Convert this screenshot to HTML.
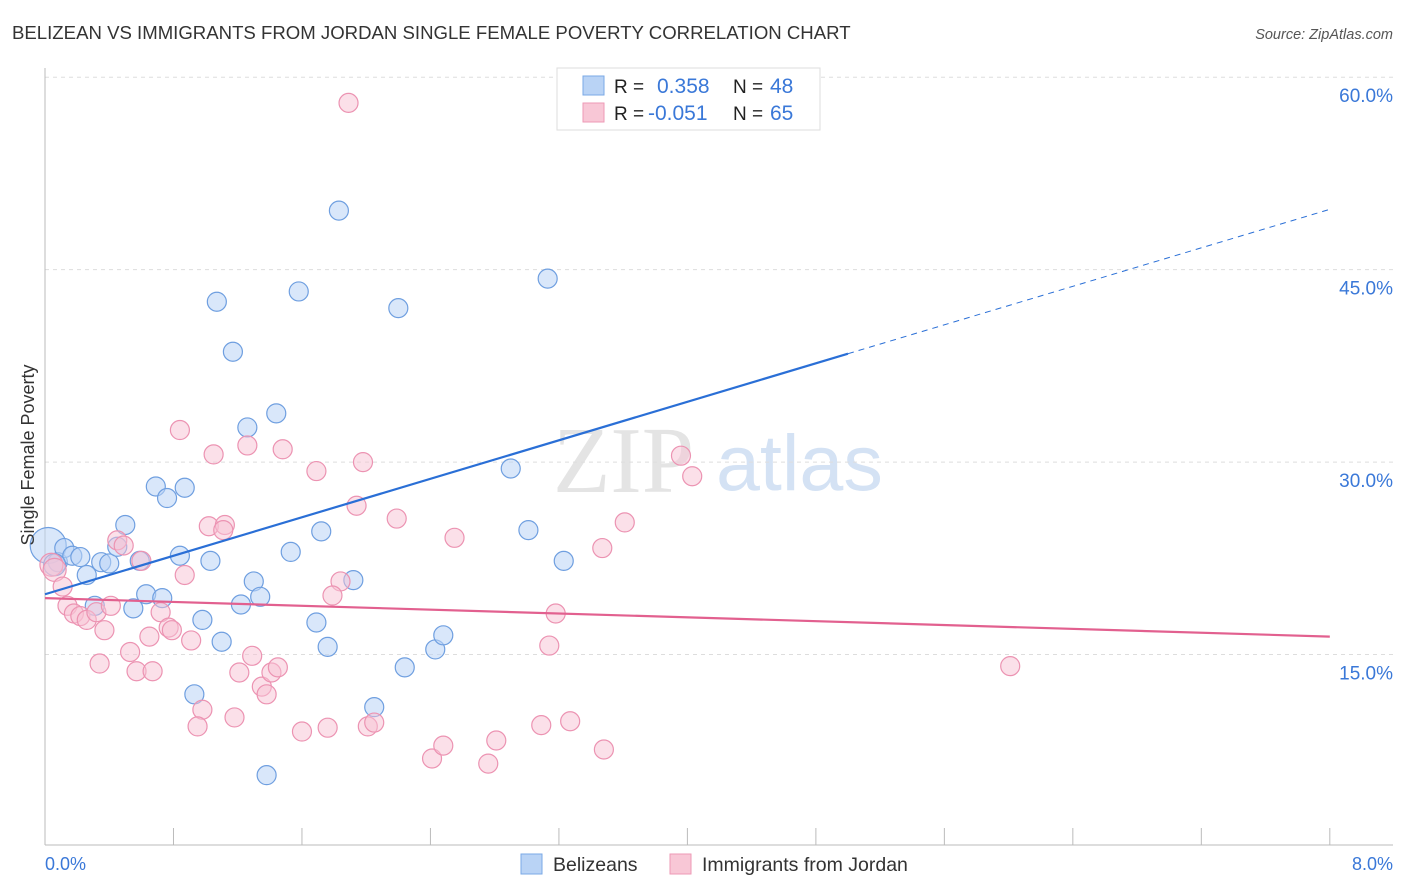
<!DOCTYPE html>
<html><head><meta charset="utf-8"><style>
body{margin:0;background:#fff;font-family:"Liberation Sans",sans-serif;}
svg{display:block}
</style></head><body>
<svg id="c" width="1406" height="892">
<text x="12" y="39" font-size="18.6" fill="#333">BELIZEAN VS IMMIGRANTS FROM JORDAN SINGLE FEMALE POVERTY CORRELATION CHART</text>
<text x="1393" y="39" font-size="14.5" fill="#555" font-style="italic" text-anchor="end">Source: ZipAtlas.com</text>
<g>
<text x="553" y="492" font-size="94" font-family="Liberation Serif,serif" fill="#e4e4e4">ZIP</text>
<text x="716" y="490" font-size="79" fill="#d4e2f4">atlas</text>
</g>
<g id="grid"></g>
<g id="axes"></g>
<g id="pts"></g>
<g id="trend"></g>
<text x="34" y="455" font-size="18" fill="#333" text-anchor="middle" transform="rotate(-90 34 455)">Single Female Poverty</text>
<text x="45" y="870" font-size="18" fill="#3a78d8">0.0%</text>
<text x="1393" y="870" font-size="18" fill="#3a78d8" text-anchor="end">8.0%</text>
<g>
<rect x="557" y="68" width="263" height="62" fill="#fff" stroke="#ddd"/>
<rect x="583" y="76" width="21" height="19" fill="#b9d3f5" stroke="#7aa8e6"/>
<rect x="583" y="103" width="21" height="19" fill="#f8c7d6" stroke="#ee9ab6"/>
<text x="614" y="93" font-size="19" fill="#222">R =</text><text x="657" y="93" font-size="21" fill="#3a78d8">0.358</text>
<text x="733" y="93" font-size="19" fill="#222">N =</text><text x="770" y="93" font-size="21" fill="#3a78d8">48</text>
<text x="614" y="120" font-size="19" fill="#222">R =</text><text x="648" y="120" font-size="21" fill="#3a78d8">-0.051</text>
<text x="733" y="120" font-size="19" fill="#222">N =</text><text x="770" y="120" font-size="21" fill="#3a78d8">65</text>
</g>
<g>
<rect x="521" y="854" width="21" height="20" fill="#b9d3f5" stroke="#7aa8e6"/>
<text x="553" y="871" font-size="19.5" fill="#333">Belizeans</text>
<rect x="670" y="854" width="21" height="20" fill="#f8c7d6" stroke="#ee9ab6"/>
<text x="702" y="871" font-size="19.5" fill="#333">Immigrants from Jordan</text>
</g>
</svg>
<script>
const blueX=[0.02,0.08,0.12,0.17,0.22,0.26,0.31,0.35,0.40,0.45,0.50,0.55,0.59,0.63,0.69,0.73,0.76,0.84,0.87,0.93,0.98,1.03,1.07,1.10,1.17,1.22,1.26,1.30,1.34,1.38,1.44,1.53,1.58,1.69,1.72,1.76,1.83,1.92,2.05,2.20,2.24,2.43,2.48,2.90,3.01,3.13,3.23,0.06];
const blueY=[23.5,22.2,23.3,22.7,22.6,21.2,18.8,22.2,22.1,23.4,25.1,18.6,22.3,19.7,28.1,19.4,27.2,22.7,28.0,11.9,17.7,22.3,42.5,16.0,38.6,18.9,32.7,20.7,19.5,5.6,33.8,23.0,43.3,17.5,24.6,15.6,49.6,20.8,10.9,42.0,14.0,15.4,16.5,29.5,24.7,44.3,22.3,22.0];
const pinkX=[1.89,0.84,1.05,1.26,1.48,1.69,1.98,1.94,2.19,2.55,3.96,4.03,3.61,3.47,1.02,1.12,1.11,0.45,0.49,0.60,0.87,1.84,1.79,3.18,3.14,6.01,0.04,0.06,0.11,0.14,0.18,0.22,0.26,0.32,0.37,0.41,0.34,0.53,0.57,0.67,0.65,0.72,0.77,0.79,0.91,0.98,0.95,1.18,1.21,1.29,1.35,1.38,1.41,1.45,1.60,1.76,2.01,2.05,2.41,2.48,2.76,2.81,3.09,3.27,3.48];
const pinkY=[58.0,32.5,30.6,31.3,31.0,29.3,30.0,26.6,25.6,24.1,30.5,28.9,25.3,23.3,25.0,25.1,24.7,23.9,23.5,22.3,21.2,20.7,19.6,18.2,15.7,14.1,22.0,21.6,20.3,18.8,18.2,18.0,17.7,18.3,16.9,18.8,14.3,15.2,13.7,13.7,16.4,18.3,17.1,16.9,16.1,10.7,9.4,10.1,13.6,14.9,12.5,11.9,13.6,14.0,9.0,9.3,9.4,9.7,6.9,7.9,6.5,8.3,9.5,9.8,7.6];
const yTicks=[15,30,45,60];
const yTickLabels=["15.0%","30.0%","45.0%","60.0%"];
const xTicks=[0,0.8,1.6,2.4,3.2,4,4.8,5.6,6.4,7.2,8];
const blueTrend=[19.7,49.7]; const blueSolidEnd=5.0;
const pinkTrend=[19.4,16.4];
const NS='http://www.w3.org/2000/svg';
const X=v=>45+v*160.6, Y=v=>847-v*12.83;
function mk(t,a,p){const e=document.createElementNS(NS,t);for(const k in a)e.setAttribute(k,a[k]);document.getElementById(p).appendChild(e);return e;}
yTicks.forEach((t,i)=>{
 const g=mk('line',{x1:45,x2:1393,y1:Y(t),y2:Y(t),stroke:'#ddd','stroke-dasharray':'4,4'},'grid');
 
 
 const l=mk('text',{x:1393,y:Y(t)+25,'font-size':19,fill:'#3a78d8','text-anchor':'end'},'grid');
 l.textContent=yTickLabels[i];
 
 
});
let a=mk('line',{x1:45,x2:45,y1:68,y2:845,stroke:'#bbb'},'axes');


a=mk('line',{x1:45,x2:1393,y1:845,y2:845,stroke:'#bbb'},'axes');


xTicks.forEach(t=>{const e=mk('line',{x1:X(t),x2:X(t),y1:828,y2:845,stroke:'#bbb'},'axes');
 
 });
blueX.forEach((x,i)=>{const r=i==0?18:(i==47?11:9.5);
 const c=mk('circle',{cx:X(x),cy:Y(blueY[i]),r:r,fill:'#b9d3f5','fill-opacity':0.55,stroke:'#6f9fe0','stroke-width':1.2},'pts');
 
 });
pinkX.forEach((x,i)=>{const r=(i==26||i==27)?11.5:9.5;
 const c=mk('circle',{cx:X(x),cy:Y(pinkY[i]),r:r,fill:'#f8c2d3','fill-opacity':0.5,stroke:'#ec93b2','stroke-width':1.2},'pts');
 
 });
const bAt=x=>blueTrend[0]+(blueTrend[1]-blueTrend[0])*x/8;
let t=mk('line',{x1:X(0),y1:Y(bAt(0)),x2:X(blueSolidEnd),y2:Y(bAt(blueSolidEnd)),stroke:'#2a6fd6','stroke-width':2.2},'trend');


t=mk('line',{x1:X(blueSolidEnd),y1:Y(bAt(blueSolidEnd)),x2:X(8),y2:Y(bAt(8)),stroke:'#2a6fd6','stroke-width':1,'stroke-dasharray':'6,5'},'trend');


t=mk('line',{x1:X(0),y1:Y(pinkTrend[0]),x2:X(8),y2:Y(pinkTrend[1]),stroke:'#e2608f','stroke-width':2.2},'trend');


</script>
</body></html>
